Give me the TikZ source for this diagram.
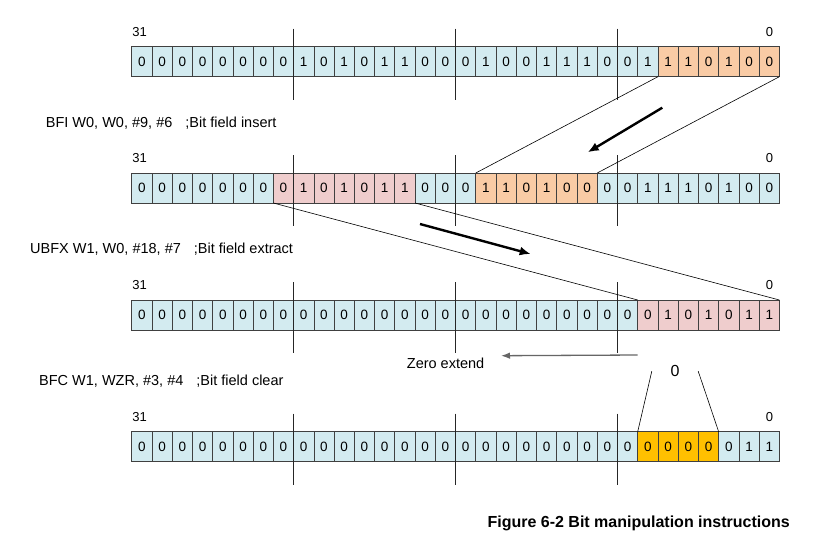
\documentclass[tikz,border=0pt]{standalone}
\usepackage{fontspec}
\setmainfont{Liberation Sans}
\usepackage{tikz}
\usetikzlibrary{positioning}
\usetikzlibrary{arrows.meta}

\definecolor{bitblue}{HTML}{D3EBF0}
\definecolor{bitorange}{HTML}{F9CBA5}
\definecolor{bitpink}{HTML}{EFCDCD}
\definecolor{bitgold}{HTML}{FFC000}
\definecolor{bitedge}{HTML}{404040}

\begin{document}
\begin{tikzpicture}[x=1pt, y=-1pt,
    bit/.style={draw=bitedge, line width=0.7pt, minimum width=20.24pt, minimum height=30pt,
                inner sep=0pt, outer sep=0pt, font=\fontsize{13.5}{15}\selectfont},
    idx/.style={font=\fontsize{13}{15}\selectfont, inner sep=0pt},
    instr/.style={anchor=west, inner sep=0pt, font=\fontsize{14.5}{16}\selectfont},
    byteline/.style={draw=black!85, line width=0.7pt},
    field/.style={draw=black, line width=0.6pt},
    move/.style={-{Latex[length=11pt, width=9pt]}, line width=2.4pt, black}]

    % Fondo y margenes
    \path[use as bounding box, fill=white] (0,0) rectangle (836,542);

    % Registro W0 original
    \foreach \v [count=\i from 0] in {0,0,0,0,0,0,0,0,1,0,1,0,1,1,0,0,0,1,0,0,1,1,1,0,0,1,1,1,0,1,0,0} {
        \ifnum\i>25 \def\fc{bitorange}\else\def\fc{bitblue}\fi
        \node (w0-\i) [bit, fill=\fc] at ({131.7+(\i+0.5)*20.24}, 61.7) {\v};
    }

    % Registro W0 tras BFI
    \foreach \v [count=\i from 0] in {0,0,0,0,0,0,0,0,1,0,1,0,1,1,0,0,0,1,1,0,1,0,0,0,0,1,1,1,0,1,0,0} {
        \ifnum\i<7 \def\fc{bitblue}\else\ifnum\i<14 \def\fc{bitpink}\else\ifnum\i<17 \def\fc{bitblue}\else
        \ifnum\i<23 \def\fc{bitorange}\else\def\fc{bitblue}\fi\fi\fi\fi
        \node (bfi-\i) [bit, fill=\fc] at ({131.7+(\i+0.5)*20.24}, 188) {\v};
    }

    % Registro W1 tras UBFX
    \foreach \v [count=\i from 0] in {0,0,0,0,0,0,0,0,0,0,0,0,0,0,0,0,0,0,0,0,0,0,0,0,0,0,1,0,1,0,1,1} {
        \ifnum\i>24 \def\fc{bitpink}\else\def\fc{bitblue}\fi
        \node (ubfx-\i) [bit, fill=\fc] at ({131.7+(\i+0.5)*20.24}, 315) {\v};
    }

    % Registro W1 tras BFC
    \foreach \v [count=\i from 0] in {0,0,0,0,0,0,0,0,0,0,0,0,0,0,0,0,0,0,0,0,0,0,0,0,0,0,0,0,0,0,1,1} {
        \ifnum\i<25 \def\fc{bitblue}\else\ifnum\i<29 \def\fc{bitgold}\else\def\fc{bitblue}\fi\fi
        \node (bfc-\i) [bit, fill=\fc] at ({131.7+(\i+0.5)*20.24}, 446.7) {\v};
    }

    % Lineas de byte y numeros de bit
    \foreach \r in {w0,bfi,ubfx,bfc} {
        \foreach \k in {8,16,24}
            \draw[byteline] ([yshift=18pt]\r-\k.north west) -- ([yshift=-23pt]\r-\k.south west);
        \node (\r-msb) [idx] at ([xshift=8pt, yshift=14.5pt]\r-0.north west) {31};
        \node (\r-lsb) [idx] at ([xshift=-10pt, yshift=15pt]\r-31.north east) {0};
    }

    % Instrucciones
    \node (bfi-txt) [instr] at (45.7, 122.7) {BFI W0, W0, \#9, \#6\hspace{13pt};Bit field insert};
    \node (ubfx-txt) [instr] at (30, 249) {UBFX W1, W0, \#18, \#7\hspace{13pt};Bit field extract};
    \node (bfc-txt) [instr] at (39, 381) {BFC W1, WZR, \#3, \#4\hspace{13pt};Bit field clear};

    % Campo insertado
    \draw[field] (w0-26.south west) -- (bfi-17.north west);
    \draw[field] (w0-31.south east) -- (bfi-22.north east);
    \coordinate (ins-from) at (662.3, 107.7);
    \coordinate (ins-to) at (587.7, 152.3);
    \draw[move] (ins-from) -- (ins-to);

    % Campo extraido
    \draw[field] (bfi-7.south west) -- (ubfx-25.north west);
    \draw[field] (bfi-13.south east) -- (ubfx-31.north east);
    \coordinate (ext-from) at (420, 224);
    \coordinate (ext-to) at (530.7, 254);
    \draw[move] (ext-from) -- (ext-to);

    % Extension con ceros
    \coordinate (zx-from) at ([yshift=-25pt]ubfx-25.south west);
    \coordinate (zx-to) at (501, 355.7);
    \draw[-{Latex[length=9pt, width=6.5pt]}, line width=1.3pt, black!60] (zx-from) -- (zx-to);
    \node (zx-txt) [anchor=west, inner sep=0pt, font=\fontsize{14.5}{16}\selectfont] at (406.7, 363.3) {Zero extend};

    % Campo borrado
    \node (zero) [minimum width=46pt, inner sep=0pt, font=\fontsize{16}{18}\selectfont] at (675, 371.2) {0};
    \draw[field] (zero.west) -- (bfc-25.north west);
    \draw[field] (zero.east) -- (bfc-28.north east);

    % Titulo
    \node (caption) [anchor=east, inner sep=0pt, font=\bfseries\fontsize{16}{18}\selectfont] at (790, 523)
    {Figure 6-2 Bit manipulation instructions};
\end{tikzpicture}
\end{document}
